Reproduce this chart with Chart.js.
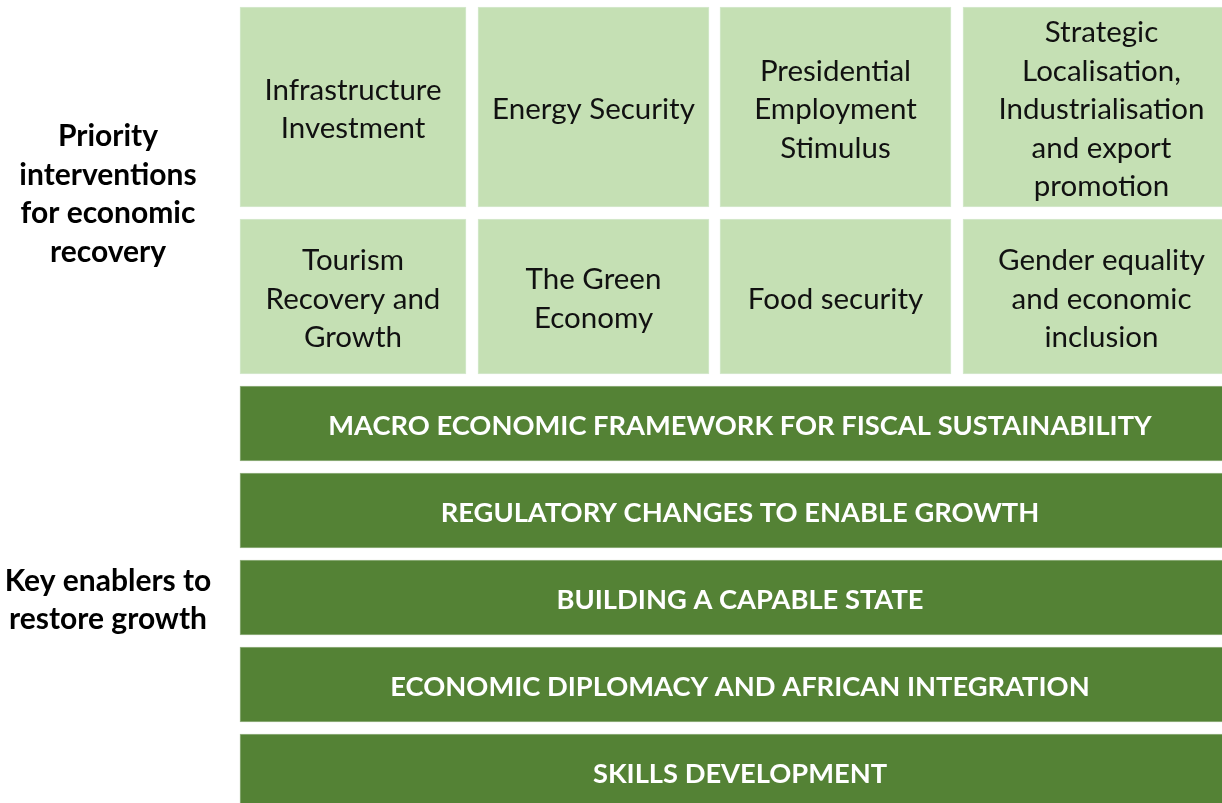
<!DOCTYPE html>
<html>
<head>
<meta charset="utf-8">
<script src="https://cdn.jsdelivr.net/npm/chart.js@4/dist/chart.umd.min.js"></script>
<style>
  html, body { margin: 0; padding: 0; background: #fff; }
  canvas { display: block; }
</style>
</head>
<body>
<canvas id="diagram" width="1222" height="803"></canvas>
<script>
// Priority interventions (top grid, read left to right, top row first)
const interventionLabels = [
  ['Infrastructure', 'Investment'],
  ['Energy Security'],
  ['Presidential', 'Employment', 'Stimulus'],
  ['Strategic', 'Localisation,', 'Industrialisation', 'and export', 'promotion'],
  ['Tourism', 'Recovery and', 'Growth'],
  ['The Green', 'Economy'],
  ['Food security'],
  ['Gender equality', 'and economic', 'inclusion']
];

// Key enablers (stacked full-width bands)
const enablerLabels = [
  'MACRO ECONOMIC FRAMEWORK FOR FISCAL SUSTAINABILITY',
  'REGULATORY CHANGES TO ENABLE GROWTH',
  'BUILDING A CAPABLE STATE',
  'ECONOMIC DIPLOMACY AND AFRICAN INTEGRATION',
  'SKILLS DEVELOPMENT'
];

// Row headings on the left
const sideLabels = [
  ['Priority', 'interventions', 'for economic', 'recovery'],
  ['Key enablers to', 'restore growth']
];

// Layout grid (in canvas units; the page is cropped on the right)
const layout = {
  cols: [[240, 466], [478, 709], [720, 951], [963, 1240]],
  rows: [[7, 207], [219, 374]],
  enablerSpan: [240, 1240],
  enablerTop: 386,
  enablerPitch: 87,
  enablerHeight: 75,
  sideX: 108,
  sideY: [192, 598],
  lineHeight: 38.5,
  textNudge: 2.5 // Lato sits a little high on a 'middle' baseline
};

const LIGHT = '#c5e0b4';
const DARK = '#548235';

function cellPoint(index) {
  const col = layout.cols[index % 4];
  const row = layout.rows[Math.floor(index / 4)];
  return { x: col, y: (row[0] + row[1]) / 2 };
}

const topRow = interventionLabels.slice(0, 4).map((_, i) => cellPoint(i));
const bottomRow = interventionLabels.slice(4).map((_, i) => cellPoint(i + 4));
const enablerBars = enablerLabels.map((_, i) => ({
  x: layout.enablerSpan,
  y: layout.enablerTop + i * layout.enablerPitch + layout.enablerHeight / 2
}));

const FONT = 'Lato, "Open Sans", sans-serif';

function drawLines(ctx, lines, cx, cy) {
  const start = cy + layout.textNudge - ((lines.length - 1) * layout.lineHeight) / 2;
  lines.forEach((line, i) => ctx.fillText(line, cx, start + i * layout.lineHeight));
}

const labelPlugin = {
  id: 'diagram-labels',
  afterDatasetsDraw(chart) {
    const ctx = chart.ctx;
    ctx.save();
    ctx.textAlign = 'center';
    ctx.textBaseline = 'middle';

    // cell texts
    ctx.fillStyle = '#111';
    ctx.font = '29.5px ' + FONT;
    [0, 1].forEach((d) => {
      chart.getDatasetMeta(d).data.forEach((bar, i) => {
        const label = interventionLabels[d * 4 + i];
        drawLines(ctx, label, (bar.x + bar.base) / 2, bar.y);
      });
    });

    // enabler texts
    ctx.fillStyle = '#fff';
    ctx.font = 'bold 27.3px ' + FONT;
    chart.getDatasetMeta(2).data.forEach((bar, i) => {
      drawLines(ctx, [enablerLabels[i]], (bar.x + bar.base) / 2, bar.y);
    });

    // side headings
    const { x, y } = chart.scales;
    ctx.fillStyle = '#000';
    ctx.font = 'bold 30px ' + FONT;
    sideLabels.forEach((lines, i) => {
      drawLines(ctx, lines, x.getPixelForValue(layout.sideX), y.getPixelForValue(layout.sideY[i]));
    });
    ctx.restore();
  }
};

new Chart(document.getElementById('diagram'), {
  type: 'bar',
  data: {
    datasets: [
      {
        data: topRow,
        backgroundColor: LIGHT,
        borderColor: '#d6ead0',
        borderWidth: 1,
        borderSkipped: false,
        barThickness: layout.rows[0][1] - layout.rows[0][0],
        grouped: false
      },
      {
        data: bottomRow,
        backgroundColor: LIGHT,
        borderColor: '#d6ead0',
        borderWidth: 1,
        borderSkipped: false,
        barThickness: layout.rows[1][1] - layout.rows[1][0],
        grouped: false
      },
      {
        data: enablerBars,
        backgroundColor: DARK,
        borderColor: '#98b487',
        borderWidth: 1,
        borderSkipped: false,
        barThickness: layout.enablerHeight,
        grouped: false
      }
    ]
  },
  options: {
    indexAxis: 'y',
    responsive: false,
    animation: false,
    events: [],
    layout: { padding: 0 },
    plugins: { legend: { display: false }, tooltip: { enabled: false } },
    scales: {
      x: { type: 'linear', min: 0, max: 1222, offset: false, display: false },
      y: { type: 'linear', min: 0, max: 803, reverse: true, offset: false, display: false }
    }
  },
  plugins: [labelPlugin]
});
</script>
</body>
</html>
